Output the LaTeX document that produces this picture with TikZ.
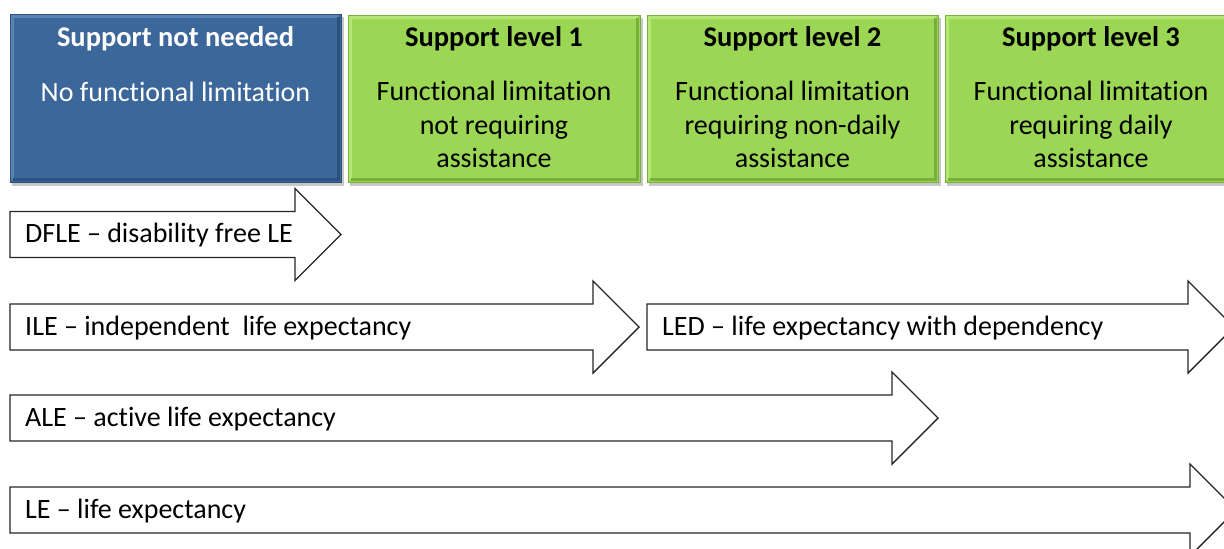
\documentclass[tikz,border=0pt]{standalone}
\usepackage{fontspec}
\setmainfont{Carlito}[Ligatures={NoCommon}]
\begin{document}
\begin{tikzpicture}[x=1pt,y=-1pt]
\definecolor{boxblue}{RGB}{60,103,154}
\definecolor{boxblueedge}{RGB}{45,80,125}
\definecolor{boxbluelight}{RGB}{90,130,178}
\definecolor{boxgreen}{RGB}{155,214,84}
\definecolor{boxgreenedge}{RGB}{120,175,60}
\definecolor{boxgreenlight}{RGB}{180,230,120}
\tikzset{
  panel/.style={line width=1pt},
  bluepanel/.style={panel, fill=boxblue, draw=boxblueedge},
  greenpanel/.style={panel, fill=boxgreen, draw=boxgreenedge},
  bevel/.style={line width=3pt, line cap=butt},
  paneltitle/.style={font=\fontsize{28.5}{34}\selectfont\bfseries, anchor=center, inner sep=0pt},
  paneltext/.style={font=\fontsize{28}{33.5}\selectfont, align=center, anchor=north, inner sep=0pt},
  blockarrow/.style={draw=black!85, line width=1.4pt, fill=white, line join=miter},
  arrowtext/.style={font=\fontsize{28}{32}\selectfont, anchor=west, inner sep=0pt},
  shade/.style={fill=black!22, draw=none}
}
\newcommand{\blockarr}[3]{%
  \draw[blockarrow] (#1,#3-23) -- (#2,#3-23) -- (#2,#3-46) -- (#2+46,#3) -- (#2,#3+46) -- (#2,#3+23) -- (#1,#3+23) -- cycle;}
\newcommand{\bevelbox}[6]{% x0 y0 x1 y1 light dark
  \draw[bevel, draw=#5] (#1+2.5,#4-2.5) -- (#1+2.5,#2+2.5) -- (#3-2.5,#2+2.5);
  \draw[bevel, draw=#6] (#1+2.5,#4-2.5) -- (#3-2.5,#4-2.5) -- (#3-2.5,#2+2.5);}
\useasboundingbox (0,0) rectangle (1224,549);
\clip (0,0) rectangle (1224,549);
% shadows
\fill[shade] (12,17) rectangle (344,186);
\fill[shade] (350,18) rectangle (643,186);
\fill[shade] (649,18) rectangle (941,186);
\fill[shade] (947,18) rectangle (1240,186);
% panels
\draw[bluepanel] (10,14) rectangle (341,182);
\bevelbox{10}{14}{341}{182}{boxbluelight}{boxblueedge}
\draw[greenpanel] (348,15) rectangle (640,182);
\bevelbox{348}{15}{640}{182}{boxgreenlight}{boxgreenedge}
\draw[greenpanel] (647,15) rectangle (938,182);
\bevelbox{647}{15}{938}{182}{boxgreenlight}{boxgreenedge}
\draw[greenpanel] (945,15) rectangle (1237,182);
\bevelbox{945}{15}{1237}{182}{boxgreenlight}{boxgreenedge}
% panel texts
\node[paneltitle, text=white] (t0) at (175.5,39) {Support not needed};
\node[paneltext, text=white] (b0) at (175.5,81.5) {No functional limitation};
\node[paneltitle] (t1) at (494,39) {Support level 1};
\node[paneltext] (b1) at (494,81) {Functional limitation\\not requiring\\assistance};
\node[paneltitle] (t2) at (792.5,39) {Support level 2};
\node[paneltext] (b2) at (792.5,81) {Functional limitation\\requiring non-daily\\assistance};
\node[paneltitle] (t3) at (1091,39) {Support level 3};
\node[paneltext] (b3) at (1091,81) {Functional limitation\\requiring daily\\assistance};
% block arrows
\blockarr{10}{295}{234.5}
\blockarr{10}{593}{327}
\blockarr{647}{1188}{327}
\blockarr{10}{892}{418}
\blockarr{10}{1190}{510}
\node[arrowtext] (dfle) at (25,235.5) {DFLE – disability free LE};
\node[arrowtext] (ile) at (25,328) {ILE – independent\ \ life expectancy};
\node[arrowtext] (led) at (662,328) {LED – life expectancy with dependency};
\node[arrowtext] (ale) at (25,419) {ALE – active life expectancy};
\node[arrowtext] (le) at (25,511) {LE – life expectancy};
\end{tikzpicture}
\end{document}
